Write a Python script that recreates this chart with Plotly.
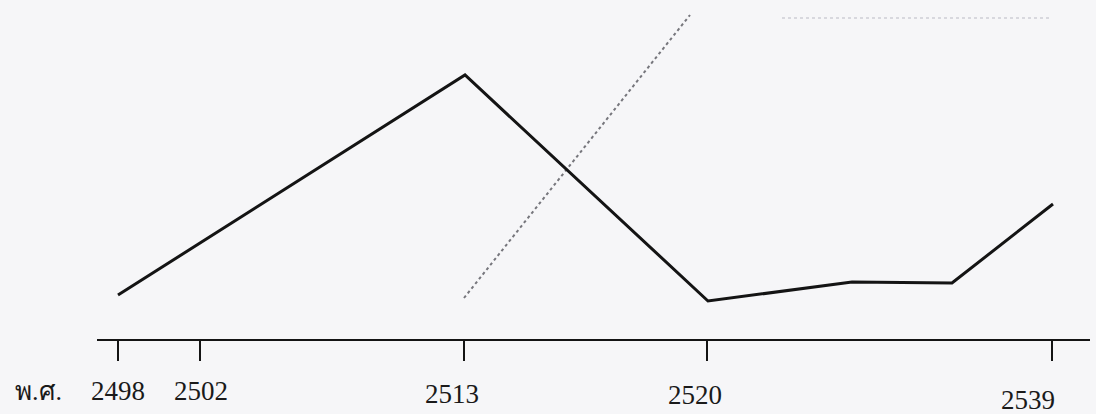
import plotly.graph_objects as go

# ---- data (positions along the hand-drawn time axis, in 0.1 px-like units; values in arbitrary units) ----
tick_labels = ["2498", "2502", "2513", "2520", "2539"]
tick_pos = [11.8, 20.0, 46.4, 70.7, 105.2]

main_pos = [11.8, 46.5, 70.8, 85.2, 95.2, 105.3]
main_val = [11.9, 33.9, 11.3, 13.2, 13.1, 21.0]

dotted_pos = [46.4, 69.0]
dotted_val = [11.6, 39.9]

faint_pos = [78.2, 105.0]
faint_val = [39.6, 39.6]

label_pos = [11.8, 20.1, 45.2, 69.5, 102.8]
label_val = [2.3, 2.3, 2.0, 1.9, 1.4]
era_label = "พ.ศ."
era_pos = 3.8
era_val = 2.3

BG = "#f6f6f8"
FONT = "Liberation Serif"

fig = go.Figure()

fig.add_trace(go.Scatter(x=faint_pos, y=faint_val, mode="lines",
                         line=dict(color="#d8d8de", width=2, dash="dot"),
                         hoverinfo="skip", showlegend=False))
fig.add_trace(go.Scatter(x=dotted_pos, y=dotted_val, mode="lines",
                         line=dict(color="#76767c", width=2, dash="dot"),
                         hoverinfo="skip", showlegend=False))
fig.add_trace(go.Scatter(x=main_pos, y=main_val, mode="lines",
                         line=dict(color="#141414", width=3),
                         hoverinfo="skip", showlegend=False))

# hidden trace to activate the secondary axis used for the drawn time axis
fig.add_trace(go.Scatter(x=tick_pos, y=[None] * len(tick_pos), xaxis="x2",
                         mode="lines", showlegend=False, hoverinfo="skip"))

for txt, xp, yv in zip(tick_labels, label_pos, label_val):
    fig.add_annotation(x=xp, y=yv, text=txt, showarrow=False,
                       font=dict(family=FONT, size=27, color="#1a1a1a"),
                       xanchor="center", yanchor="middle")
fig.add_annotation(x=era_pos, y=era_val, text=era_label, showarrow=False,
                   font=dict(family=FONT, size=26, color="#1a1a1a"),
                   xanchor="center", yanchor="middle")

fig.update_layout(
    width=1096, height=414,
    margin=dict(l=0, r=0, t=0, b=0, pad=0, autoexpand=False),
    paper_bgcolor=BG, plot_bgcolor="rgba(0,0,0,0)",
    font=dict(family=FONT),
    xaxis=dict(range=[0, 109.6], visible=False, fixedrange=True),
    yaxis=dict(range=[0, 41.4], visible=False, fixedrange=True),
    xaxis2=dict(domain=[9.7 / 109.6, 109.0 / 109.6], range=[9.7, 109.0],
                anchor="free", position=(41.4 - 34.0) / 41.4,
                side="bottom", showline=True, linecolor="#141414", linewidth=2,
                ticks="outside", ticklen=20, tickwidth=2, tickcolor="#141414",
                tickvals=tick_pos, showticklabels=False, showgrid=False,
                zeroline=False, fixedrange=True, automargin=False),
    showlegend=False,
)

fig.write_html("out.html",
               config={"displayModeBar": False, "staticPlot": True},
               post_script="document.body.style.margin='0';document.body.style.background='%s';" % BG)
